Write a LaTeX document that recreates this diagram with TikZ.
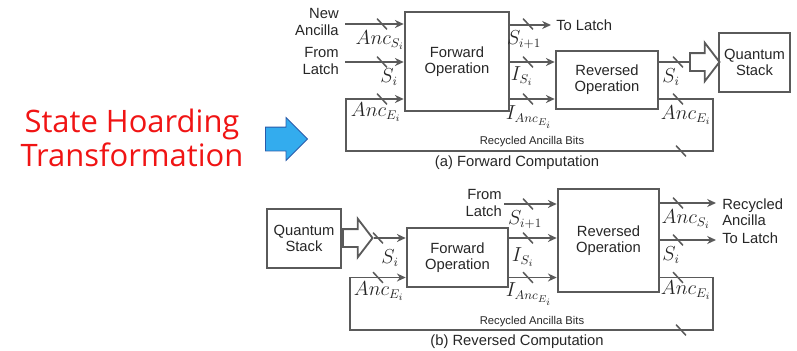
\documentclass[tikz,border=0pt]{standalone}
\usepackage{fontspec}
\setmainfont{Liberation Sans}
\newfontfamily\handfont{Open Sans}
\usetikzlibrary{arrows.meta, shapes.arrows, calc}

\definecolor{wire}{RGB}{90,90,90}
\definecolor{hoardred}{RGB}{240,20,20}
\definecolor{arrowblue}{RGB}{51,172,238}
\definecolor{arrowedge}{RGB}{40,90,170}

\begin{document}
\begin{tikzpicture}[
    x=0.025cm, y=-0.025cm,
    >={Stealth[length=2.2mm, width=2mm]},
    every node/.style={font=\fontsize{10.5}{11.5}\selectfont, text=black!85},
    opbox/.style={rectangle, draw=wire, line width=1.8pt, inner sep=0pt, align=center},
    sig/.style={draw=wire, line width=1.3pt},
    sigarrow/.style={sig, ->},
    lab/.style={font=\fontsize{13.5}{13.5}\selectfont, inner sep=0pt},
    note/.style={font=\fontsize{8}{9}\selectfont, inner sep=0pt},
    caption/.style={font=\fontsize{10.5}{12}\selectfont, inner sep=0pt},
    hollow/.style={single arrow, draw=wire, line width=1.3pt, fill=white,
                   inner xsep=0.05cm, inner ysep=0.2cm, single arrow head extend=0.26cm,
                   single arrow tip angle=105, minimum height=0.74cm, anchor=tail},
    busslash/.pic={\draw[wire, line width=1.1pt] (-3.5pt,3.8pt) -- (3.5pt,-3.8pt);}
]
    \useasboundingbox (0,0) rectangle (797,350);

    % --- Left: title and blue arrow ---
    \node[font=\handfont\fontsize{22}{24}\selectfont, text=hoardred, align=center]
        (hoard) at (132,138) {State Hoarding\\Transformation};
    \node[single arrow, fill=arrowblue, draw=arrowedge, line width=0.6pt,
          inner xsep=0.05cm, inner ysep=0.2875cm, single arrow head extend=0.2375cm,
          minimum height=1.05cm, anchor=tail] (bluearrow) at (265,139) {};

    % --- (a) Forward Computation: boxes ---
    \node[opbox, minimum width=2.6cm, minimum height=2.475cm] (fwdA) at (457,61.5) {Forward\\Operation};
    \node[opbox, minimum width=2.55cm, minimum height=1.45cm] (revA) at (607,80) {Reversed\\Operation};
    \node[opbox, minimum width=1.775cm, minimum height=1.475cm] (stackA) at (754.5,62.5) {Quantum\\Stack};

    % inputs
    \node[align=right, anchor=east, inner sep=0pt] (newancA) at (339,22) {New\\Ancilla};
    \node[align=right, anchor=east, inner sep=0pt] (fromA) at (339,61) {From\\Latch};
    \coordinate (inA1) at (345,24);
    \coordinate (inA2) at (345,62);
    \draw[sigarrow] (inA1) -- (inA1 -| fwdA.west);
    \draw[sigarrow] (inA2) -- (inA2 -| fwdA.west);

    % recycled loop
    \coordinate (loopA1) at (713,99);
    \coordinate (loopA2) at (713,151);
    \coordinate (loopA3) at (346,151);
    \coordinate (loopA4) at (346,99);
    \draw[sigarrow] (loopA1 -| revA.east) -- (loopA1) -- (loopA2) -- (loopA3) -- (loopA4) -- (loopA4 -| fwdA.west);

    % forward -> reversed
    \coordinate (toLatchA) at (551,25);
    \draw[sigarrow] (toLatchA -| fwdA.east) -- (toLatchA);
    \node[anchor=west, inner sep=0pt] (toLatchTxtA) at ($(toLatchA)+(5,0)$) {To Latch};
    \draw[sigarrow] (inA2 -| fwdA.east) -- (inA2 -| revA.west);
    \draw[sigarrow] (loopA4 -| fwdA.east) -- (loopA4 -| revA.west);

    % reversed -> stack
    \node[hollow] (fatA) at (689,62) {};
    \draw[sig] (inA2 -| revA.east) -- (fatA.tail);

    % bus marks
    \foreach \y in {24,62,99} {
        \pic at (382,\y) {busslash};
        \pic at (528,\y) {busslash};
    }
    \pic at (678,62) {busslash};
    \pic at (678,99) {busslash};
    \pic at (681,151) {busslash};

    % labels
    \node[lab] (ancSA)  at (380,40)  {$Anc_{S_i}$};
    \node[lab] (sA)     at (389,77)  {$S_i$};
    \node[lab] (ancEA)  at (376,112) {$Anc_{E_i}$};
    \node[lab] (sNextA) at (524,40)  {$S_{i+1}$};
    \node[lab] (iSA)    at (522,76)  {$I_{S_i}$};
    \node[lab] (iAncA)  at (529,117) {$I_{Anc_{E_i}}$};
    \node[lab] (sOutA)  at (671,77)  {$S_i$};
    \node[lab] (ancOutA) at (686,115) {$Anc_{E_i}$};
    \node[note] (recA) at (532,142) {Recycled Ancilla Bits};
    \node[caption] (capA) at (517,163) {(a) Forward Computation};

    % --- (b) Reversed Computation: boxes ---
    \node[opbox, minimum width=1.85cm, minimum height=1.475cm] (stackB) at (304,238.5) {Quantum\\Stack};
    \node[opbox, minimum width=2.525cm, minimum height=1.475cm] (fwdB) at (457.5,257.5) {Forward\\Operation};
    \node[opbox, minimum width=2.525cm, minimum height=2.575cm] (revB) at (608.5,240.5) {Reversed\\Operation};

    % stack -> forward
    \node[hollow] (fatB) at (342,238) {};
    \draw[sigarrow] (fatB.tip) -- (fatB.tip -| fwdB.west);

    % recycled loop
    \coordinate (loopB1) at (713,277.5);
    \coordinate (loopB2) at (713,330);
    \coordinate (loopB3) at (350,330);
    \coordinate (loopB4) at (350,277.5);
    \draw[sigarrow] (loopB1 -| revB.east) -- (loopB1) -- (loopB2) -- (loopB3) -- (loopB4) -- (loopB4 -| fwdB.west);

    % from latch, forward -> reversed
    \node[align=right, anchor=east, inner sep=0pt] (fromB) at (502,203) {From\\Latch};
    \coordinate (inB1) at (504,204);
    \draw[sigarrow] (inB1) -- (inB1 -| revB.west);
    \draw[sigarrow] (fatB.tip -| fwdB.east) -- (fatB.tip -| revB.west);
    \draw[sigarrow] (loopB4 -| fwdB.east) -- (loopB4 -| revB.west);

    % reversed outputs
    \coordinate (outB1) at (716,203);
    \coordinate (outB2) at (716,240);
    \draw[sigarrow] (outB1 -| revB.east) -- (outB1);
    \draw[sigarrow] (outB2 -| revB.east) -- (outB2);
    \node[align=left, anchor=west, inner sep=0pt] (recTxtB) at ($(outB1)+(6,9)$) {Recycled\\Ancilla};
    \node[anchor=west, inner sep=0pt] (toLatchTxtB) at ($(outB2)+(6,-2)$) {To Latch};

    % bus marks
    \pic at (378,238) {busslash};
    \pic at (378,277.5) {busslash};
    \foreach \y in {204,238,277.5} \pic at (528,\y) {busslash};
    \foreach \y in {203,240,277.5} \pic at (678,\y) {busslash};
    \pic at (681,330) {busslash};

    % labels
    \node[lab] (sB)      at (390,258) {$S_i$};
    \node[lab] (ancEB)   at (379,291) {$Anc_{E_i}$};
    \node[lab] (sNextB)  at (525,220) {$S_{i+1}$};
    \node[lab] (iSB)     at (523,257) {$I_{S_i}$};
    \node[lab] (iAncB)   at (529,294) {$I_{Anc_{E_i}}$};
    \node[lab] (ancSB)   at (686,219) {$Anc_{S_i}$};
    \node[lab] (sOutB)   at (671,255) {$S_i$};
    \node[lab] (ancOutB) at (686,290) {$Anc_{E_i}$};
    \node[note] (recB) at (532,322) {Recycled Ancilla Bits};
    \node[caption] (capB) at (517,342) {(b) Reversed Computation};

\end{tikzpicture}
\end{document}
